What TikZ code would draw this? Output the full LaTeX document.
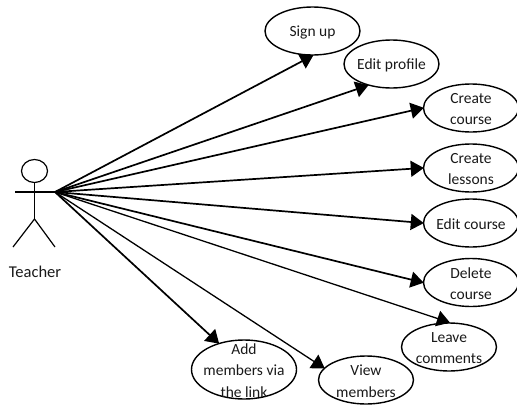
\documentclass[tikz,border=0pt]{standalone}
\usepackage{fontspec}
\setmainfont{Carlito}
\usetikzlibrary{shapes.geometric,arrows.meta}
\tikzset{
 x=1pt,y=-1pt,
 uc/.style={ellipse,draw,line width=1.4pt,minimum width=95pt,minimum height=48pt,inner sep=0pt},
 lab/.style={align=center,font=\fontsize{15.5}{21.5}\selectfont,inner sep=0pt,text=black!90,yshift=-1pt},
 assoc/.style={line width=1.7pt,-{Triangle[length=13pt,width=16pt]},shorten >=-1pt},
 thin assoc/.style={assoc,line width=1.3pt},
 stick/.style={line width=1.2pt}
}
\begin{document}
\begin{tikzpicture}
\useasboundingbox (0,0) rectangle (517,405);
\node[uc,label={[lab]center:Sign up}] (su) at (312.5,31) {};
\node[uc,label={[lab]center:Edit profile}] (ep) at (391.5,64) {};
\node[uc,label={[lab]center:Create\\course}] (cc) at (471,108) {};
\node[uc,label={[lab]center:Create\\lessons}] (cl) at (471,168) {};
\node[uc,label={[lab]center:Edit course}] (ec) at (471,223) {};
\node[uc,label={[lab]center:Delete\\course}] (dc) at (471,282.5) {};
\node[uc,label={[lab]center:Leave\\comments}] (lc) at (449,347) {};
\node[uc,label={[lab]center:View\\members}] (vm) at (366,380) {};
\node[uc,minimum width=105pt,minimum height=59pt,label={[lab]center:Add\\members via\\the link}] (am) at (244,369.5) {};
% actor
\node[ellipse,draw,stick,minimum width=26pt,minimum height=23pt,inner sep=0pt] (head) at (34.5,171) {};
\coordinate (hip) at (34.5,219);
\coordinate (armL) at (15,192);
\coordinate (hub) at (55,192);
\coordinate (footL) at (13,247);
\coordinate (footR) at (55,247);
\draw[stick] (head.south) -- (hip);
\draw[stick] (armL) -- (hub);
\draw[stick] (footL) -- (hip) -- (footR);
\node[lab,font=\fontsize{16.5}{18}\selectfont] (teacher) at (35,271) {Teacher};
% associations
\draw[assoc] (hub) -- (su.270);
\draw[assoc] (hub) -- (ep.222);
\draw[assoc] (hub) -- (cc.180);
\draw[assoc] (hub) -- (cl.180);
\draw[assoc] (hub) -- (ec.180);
\draw[assoc] (hub) -- (dc.180);
\draw[thin assoc] (hub) -- (lc.90);
\draw[thin assoc] (hub) -- (vm.164);
\draw[assoc] (hub) -- (am.134);
\end{tikzpicture}
\end{document}
